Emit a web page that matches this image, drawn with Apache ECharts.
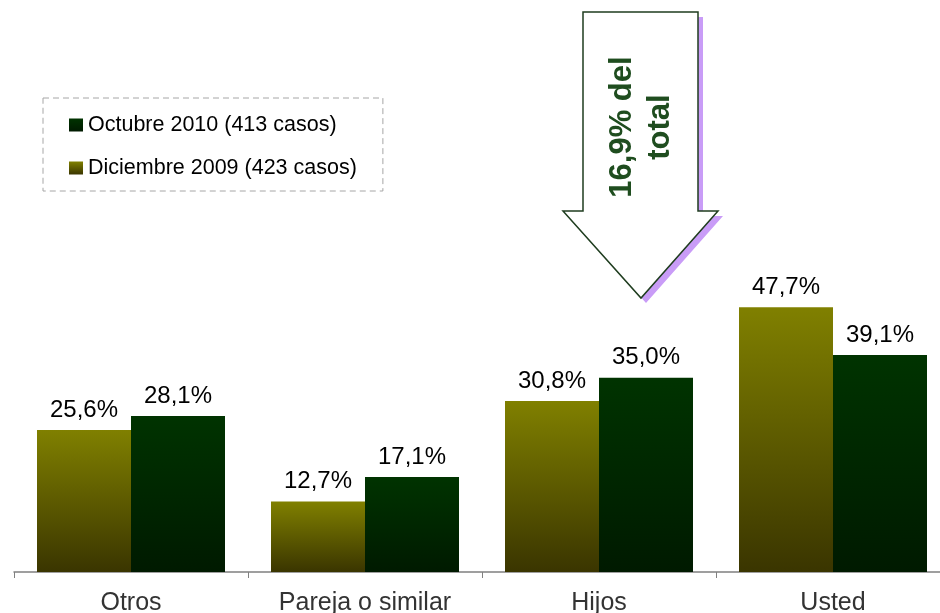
<!DOCTYPE html>
<html>
<head>
<meta charset="utf-8">
<script src="https://cdn.jsdelivr.net/npm/echarts@6/dist/echarts.min.js"></script>
<style>
  html, body { margin: 0; padding: 0; background: #fff; }
  #chart { width: 940px; height: 613px; }
</style>
</head>
<body>
<div id="chart"></div>
<script>
  // data
  let categories = ['Otros', 'Pareja o similar', 'Hijos', 'Usted']
  let dic2009 = [25.6, 12.7, 30.8, 47.7]
  let oct2010 = [28.1, 17.1, 35.0, 39.1]
  let seriesNames = ['Diciembre 2009 (423 casos)', 'Octubre 2010 (413 casos)']
  let legendOrder = ['Octubre 2010 (413 casos)', 'Diciembre 2009 (423 casos)']
  let arrowText = '16,9% del\ntotal'

  let chart = echarts.init(document.getElementById('chart'))

  let fmt = function (p) {
    return p.value.toFixed(1).replace('.', ',') + '%'
  }
  let grad = function (top, bottom) {
    return new echarts.graphic.LinearGradient(0, 0, 0, 1, [
      { offset: 0, color: top },
      { offset: 1, color: bottom }
    ])
  }
  let labelStyle = {
    show: true,
    position: 'top',
    distance: 8,
    formatter: fmt,
    color: '#000',
    fontSize: 24,
    fontFamily: 'Liberation Sans, Arial, sans-serif'
  }

  // arrow outline (decoration)
  let arrowPts = [[583, 12], [698, 12], [698, 211], [718, 211], [641, 298], [563, 211], [583, 211]]
  let shadowPts = arrowPts.map(function (p) { return [p[0] + 5, p[1] + 5] })

  const option = {
    animation: false,
    grid: { left: 14, right: -10, top: 17, bottom: 41, containLabel: false, outerBoundsMode: 'none' },
    legend: {
      data: legendOrder,
      orient: 'vertical',
      left: 43,
      top: 98,
      padding: [16, 26, 12, 26],
      itemGap: 21,
      itemWidth: 14,
      itemHeight: 13,
      itemTextGap: 7,
      icon: 'rect',
      borderColor: '#a6a6a6',
      borderWidth: 1,
      borderType: [6, 4],
      textStyle: { color: '#000', fontSize: 21.5, fontFamily: 'Liberation Sans, Arial, sans-serif' }
    },
    xAxis: {
      type: 'category',
      data: categories,
      axisLine: { lineStyle: { color: '#808080', width: 1.5 } },
      axisTick: { show: true, inside: false, length: 6, lineStyle: { color: '#808080' } },
      axisLabel: { color: '#333', fontSize: 25, margin: 19, fontFamily: 'Liberation Sans, Arial, sans-serif' }
    },
    yAxis: {
      type: 'value',
      min: 0,
      max: 100,
      show: false,
      splitLine: { show: false }
    },
    series: [
      {
        name: seriesNames[0],
        type: 'bar',
        data: dic2009,
        barWidth: 94,
        barGap: '0%',
        itemStyle: { color: grad('#808000', '#3a3500') },
        label: labelStyle
      },
      {
        name: seriesNames[1],
        type: 'bar',
        data: oct2010,
        barWidth: 94,
        barGap: '0%',
        itemStyle: { color: grad('#003300', '#001a00') },
        label: labelStyle
      }
    ],
    graphic: [
      {
        type: 'polygon',
        shape: { points: shadowPts },
        style: { fill: '#c99cf7' },
        z: 10
      },
      {
        type: 'polygon',
        shape: { points: arrowPts },
        style: { fill: '#fff', stroke: '#1f3d1f', lineWidth: 1.5 },
        z: 11
      },
      {
        type: 'text',
        x: 641,
        y: 127,
        rotation: Math.PI / 2,
        style: {
          text: arrowText,
          fill: '#1f4d1f',
          fontSize: 31,
          fontWeight: 'bold',
          lineHeight: 38,
          align: 'center',
          verticalAlign: 'middle',
          fontFamily: 'Liberation Sans, Arial, sans-serif'
        },
        z: 12
      }
    ]
  }
  chart.setOption(option)
</script>
</body>
</html>
